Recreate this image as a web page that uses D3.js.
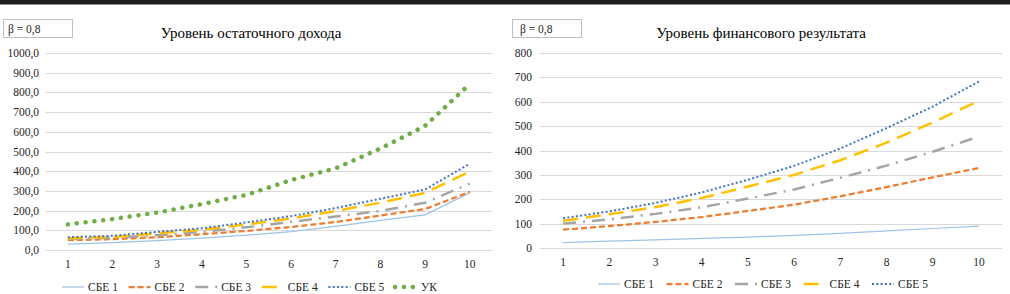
<!DOCTYPE html>
<html>
<head>
<meta charset="utf-8">
<script src="https://cdn.jsdelivr.net/npm/d3@7"></script>
<style>
  body { margin: 0; background: #fff; }
</style>
</head>
<body>
<div id="chart"></div>
<script>
const periods = [1, 2, 3, 4, 5, 6, 7, 8, 9, 10];

// Уровень остаточного дохода
const incomeSbe1 = [30, 38, 47, 60, 75, 93, 120, 150, 178, 290];
const incomeSbe2 = [50, 55, 65, 80, 97, 117, 142, 175, 208, 295];
const incomeSbe3 = [56, 62, 75, 92, 115, 143, 170, 198, 240, 337];
const incomeSbe4 = [60, 66, 85, 102, 130, 160, 198, 240, 290, 398];
const incomeSbe5 = [65, 72, 92, 110, 140, 172, 213, 260, 307, 438];
const incomeUk = [130, 157, 190, 233, 280, 355, 415, 515, 630, 842];

// Уровень финансового результата
const resultSbe1 = [22, 28, 33, 39, 45, 52, 60, 70, 80, 90];
const resultSbe2 = [75, 90, 107, 127, 152, 178, 212, 250, 290, 328];
const resultSbe3 = [100, 118, 140, 167, 203, 240, 288, 338, 395, 457];
const resultSbe4 = [112, 138, 168, 205, 252, 300, 360, 432, 515, 604];
const resultSbe5 = [122, 150, 185, 228, 280, 337, 408, 492, 580, 683];

const incomeTicks = d3.range(0, 1001, 100);
const resultTicks = d3.range(0, 801, 100);

const styles = {
  "СБЕ 1": { color: "#9dc3e6", width: 1.25, dash: null, cap: "butt" },
  "СБЕ 2": { color: "#ed7d31", width: 2.25, dash: "6 3", cap: "butt" },
  "СБЕ 3": { color: "#a5a5a5", width: 2.5, dash: "13 7 2 7", cap: "butt" },
  "СБЕ 4": { color: "#ffc000", width: 2.5, dash: "15 8", cap: "butt" },
  "СБЕ 5": { color: "#4472c4", width: 2, dash: "2 2.3", cap: "butt" },
  "УК":    { color: "#70ad47", width: 4.5, dash: "0.1 8.8", cap: "round" }
};

const FONT = "'Liberation Serif', 'Times New Roman', serif";
const TXT = "#262626";

const W = 1010, H = 294;
const svg = d3.select("#chart").append("svg").attr("width", W).attr("height", H)
  .style("font-family", FONT);

svg.append("rect").attr("x", 0).attr("y", 0).attr("width", W).attr("height", 4.5).attr("fill", "#1e1e1e");

function drawPanel(cfg) {
  const g = svg.append("g");
  const x = d3.scalePoint().domain(periods).range([cfg.left, cfg.right]).padding(0.5);
  const y = d3.scaleLinear().domain([0, cfg.max]).range([cfg.bottom, cfg.top]);

  // β box
  g.append("rect").attr("x", cfg.boxX + 0.5).attr("y", 19.5).attr("width", 69).attr("height", 18)
    .attr("fill", "#fff").attr("stroke", "#bfbfbf");
  g.append("text").attr("x", cfg.boxX + cfg.boxPad).attr("y", 32.5)
    .style("font-family", FONT).style("font-size", "11.5px").attr("fill", TXT).text("β = 0,8");

  g.append("text").attr("x", cfg.titleX).attr("y", 38).attr("text-anchor", "middle")
    .style("font-family", FONT).style("font-size", "15px").attr("fill", "#000").text(cfg.title);

  // grid
  g.selectAll(".grid").data(cfg.ticks).enter().append("line")
    .attr("x1", cfg.left).attr("x2", cfg.right)
    .attr("y1", d => Math.round(y(d)) + 0.5).attr("y2", d => Math.round(y(d)) + 0.5)
    .attr("stroke", "#d9d9d9").attr("stroke-width", 1);

  g.selectAll(".ylab").data(cfg.ticks).enter().append("text")
    .attr("x", cfg.labelX).attr("y", d => y(d) + 4).attr("text-anchor", "end")
    .style("font-family", FONT).style("font-size", "11.5px").attr("fill", TXT).text(cfg.fmt);

  g.selectAll(".xlab").data(periods).enter().append("text")
    .attr("x", d => x(d)).attr("y", cfg.bottom + 18).attr("text-anchor", "middle")
    .style("font-family", FONT).style("font-size", "11.5px").attr("fill", TXT).text(d => d);

  const line = d3.line().x((d, i) => x(periods[i])).y(d => y(d));

  cfg.series.forEach(s => {
    const st = styles[s.name];
    g.append("path").datum(s.values).attr("d", line)
      .attr("fill", "none").attr("stroke", st.color).attr("stroke-width", st.width)
      .attr("stroke-dasharray", st.dash).attr("stroke-linecap", st.cap);
  });

  // legend
  cfg.series.forEach((s, i) => {
    const st = styles[s.name];
    const lx = cfg.legendX + i * cfg.legendStep;
    g.append("line").attr("x1", lx).attr("x2", lx + 22).attr("y1", cfg.legendY).attr("y2", cfg.legendY)
      .attr("stroke", st.color).attr("stroke-width", st.width)
      .attr("stroke-dasharray", st.dash).attr("stroke-linecap", st.cap);
    g.append("text").attr("x", lx + 26).attr("y", cfg.legendY + 4)
      .style("font-family", FONT).style("font-size", "11.5px").attr("fill", TXT).text(s.name);
  });
}

const fmtComma = d => d3.format(".1f")(d).replace(".", ",");

drawPanel({
  left: 45.5, right: 492, top: 53, bottom: 250, max: 1000,
  ticks: incomeTicks, fmt: fmtComma, labelX: 39,
  title: "Уровень остаточного дохода", titleX: 251,
  boxX: 3, boxPad: 5,
  legendX: 62, legendStep: 66.6, legendY: 287,
  series: [
    { name: "СБЕ 1", values: incomeSbe1 },
    { name: "СБЕ 2", values: incomeSbe2 },
    { name: "СБЕ 3", values: incomeSbe3 },
    { name: "СБЕ 4", values: incomeSbe4 },
    { name: "СБЕ 5", values: incomeSbe5 },
    { name: "УК", values: incomeUk }
  ]
});

drawPanel({
  left: 540, right: 1002, top: 53, bottom: 248, max: 800,
  ticks: resultTicks, fmt: d => d, labelX: 532,
  title: "Уровень финансового результата", titleX: 761,
  boxX: 512, boxPad: 8,
  legendX: 598, legendStep: 68.5, legendY: 284,
  series: [
    { name: "СБЕ 1", values: resultSbe1 },
    { name: "СБЕ 2", values: resultSbe2 },
    { name: "СБЕ 3", values: resultSbe3 },
    { name: "СБЕ 4", values: resultSbe4 },
    { name: "СБЕ 5", values: resultSbe5 }
  ]
});
</script>
</body>
</html>
